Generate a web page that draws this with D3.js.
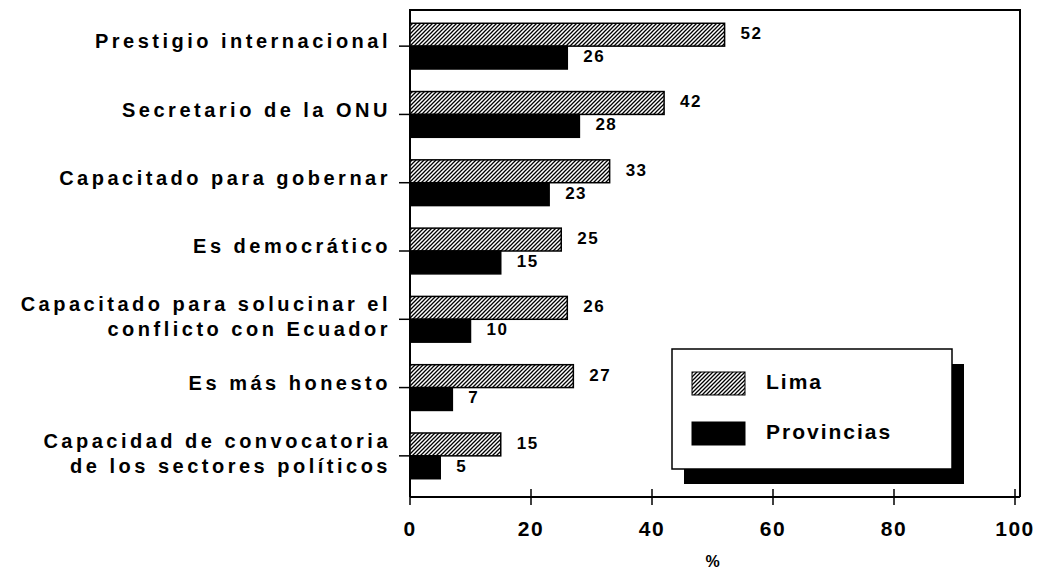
<!DOCTYPE html>
<html><head><meta charset="utf-8">
<script src="https://cdn.jsdelivr.net/npm/d3@7"></script>
<style>
body{margin:0;background:#fff;}
text{font-family:"Liberation Sans",Arial,sans-serif;font-weight:bold;fill:#000;}
</style></head><body>
<svg id="c" width="1053" height="571"></svg>
<script>
const categories = [
  ["Prestigio internacional"],
  ["Secretario de la ONU"],
  ["Capacitado para gobernar"],
  ["Es democrático"],
  ["Capacitado para solucinar el","conflicto con Ecuador"],
  ["Es más honesto"],
  ["Capacidad de convocatoria","de los sectores políticos"]
];
const seriesNames = ["Lima","Provincias"];
const lima = [52, 42, 33, 25, 26, 27, 15];
const provincias = [26, 28, 23, 15, 10, 7, 5];
const limaLabels = ["52","42","33","25","26","27","15"];
const provLabels = ["26","28","23","15","10","7","5"];
const xTicks = [0,20,40,60,80,100];
const xTitle = "%";

(function(){
const svg = d3.select("#c");
const defs = svg.append("defs");
const pat = defs.append("pattern").attr("id","hatch").attr("patternUnits","userSpaceOnUse")
  .attr("width",4).attr("height",4);
pat.append("rect").attr("width",4).attr("height",4).attr("fill","#fff");
pat.append("path").attr("d","M-1,1 l2,-2 M0,4 l4,-4 M3,5 l2,-2").attr("stroke","#000").attr("stroke-width",1.3);

const pLeft = 410, pRight = 1015, pTop = 10, axisY = 497;
const x = d3.scaleLinear().domain([0,100]).range([pLeft, pRight]);
const idx = categories.map((d,i)=>i);
const y = d3.scaleBand().domain(idx).range([12, 490]).paddingInner(0.33).paddingOuter(0.165);
const sub = d3.scaleBand().domain(seriesNames).range([0, y.bandwidth()]);

// frame
svg.append("path").attr("d",`M${pLeft},${axisY} V${pTop} H${pRight+5} V${axisY}`)
  .attr("fill","none").attr("stroke","#000").attr("stroke-width",2);

// bars
const data = idx.map(i => ({i, vals:[lima[i], provincias[i]], labs:[limaLabels[i], provLabels[i]]}));
const g = svg.append("g");
data.forEach(d => {
  seriesNames.forEach((s,k) => {
    g.append("rect")
      .attr("x", x(0)).attr("y", y(d.i) + sub(s))
      .attr("width", x(d.vals[k]) - x(0)).attr("height", sub.bandwidth())
      .attr("fill", k===0 ? "url(#hatch)" : "#000")
      .attr("stroke","#000").attr("stroke-width",1.5);
    g.append("text")
      .attr("x", x(d.vals[k]) + 16).attr("y", y(d.i) + sub(s) + sub.bandwidth()/2)
      .attr("dominant-baseline","middle")
      .style("font-size","17px").style("letter-spacing","1.5px")
      .text(d.labs[k]);
  });
});

// y axis ticks & labels
const ya = svg.append("g");
idx.forEach(i => {
  const cy = y(i) + y.bandwidth()/2;
  ya.append("line").attr("x1", pLeft-11).attr("x2", pLeft).attr("y1", cy).attr("y2", cy)
    .attr("stroke","#000").attr("stroke-width",1.5);
  const lines = categories[i];
  const lh = 25;
  lines.forEach((t,j) => {
    ya.append("text").attr("x", pLeft-19)
      .attr("y", cy - 3 + (lines.length-1)*2 + (j - (lines.length-1)/2)*lh)
      .attr("dominant-baseline","middle").attr("text-anchor","end")
      .style("font-size","20px").style("letter-spacing","3.5px")
      .text(t);
  });
});

// x axis
const xa = svg.append("g");
xa.append("line").attr("x1", pLeft).attr("x2", pRight+5).attr("y1", axisY).attr("y2", axisY)
  .attr("stroke","#000").attr("stroke-width",2);
xTicks.forEach(t => {
  xa.append("line").attr("x1", x(t)).attr("x2", x(t)).attr("y1", axisY-8).attr("y2", axisY+8)
    .attr("stroke","#000").attr("stroke-width",1.5);
  xa.append("text").attr("x", x(t)).attr("y", axisY+33)
    .attr("text-anchor","middle").attr("dominant-baseline","middle")
    .style("font-size","21px").style("letter-spacing","1.5px")
    .text(t);
});
svg.append("text").attr("x", x(50)).attr("y", 563).attr("text-anchor","middle")
  .attr("dominant-baseline","middle").style("font-size","16px").text(xTitle);

// legend
const lg = svg.append("g").attr("transform","translate(672,349)");
const lw = 280, lhgt = 120;
lg.append("rect").attr("x",12).attr("y",15).attr("width",lw).attr("height",lhgt).attr("fill","#000");
lg.append("rect").attr("x",0).attr("y",0).attr("width",lw).attr("height",lhgt)
  .attr("fill","#fff").attr("stroke","#000").attr("stroke-width",1.5);
seriesNames.forEach((s,k) => {
  lg.append("rect").attr("x",20).attr("y",23 + k*50).attr("width",53).attr("height",23)
    .attr("fill", k===0 ? "url(#hatch)" : "#000").attr("stroke","#000").attr("stroke-width",1);
  lg.append("text").attr("x",94).attr("y",34 + k*50).attr("dominant-baseline","middle")
    .style("font-size","21px").style("letter-spacing","2px").text(s);
});
})();
</script>
</body></html>
